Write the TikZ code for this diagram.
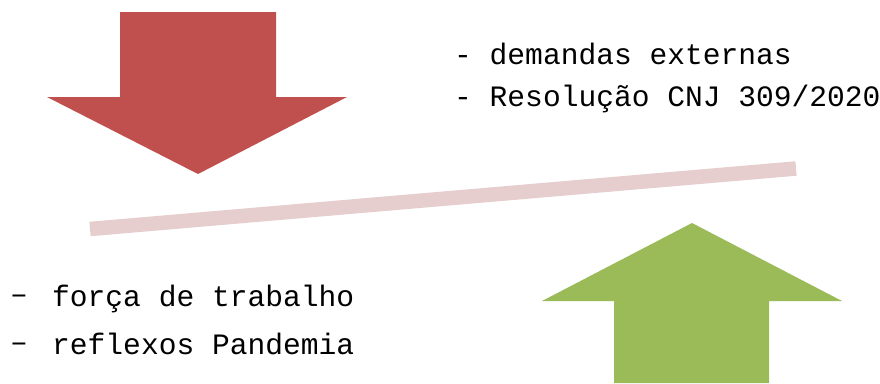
\documentclass[tikz,border=0pt]{standalone}
\usepackage{fontspec}
\setmonofont{Liberation Mono}
\definecolor{redarrow}{HTML}{C0504D}
\definecolor{greenarrow}{HTML}{9BBB59}
\definecolor{barpink}{HTML}{E6CDCE}
\begin{document}
\begin{tikzpicture}[x=1pt,y=-1pt,
  lbl/.style={anchor=base west, inner sep=0pt, font=\fontsize{29.6}{34}\selectfont\ttfamily},
  barline/.style={barpink, line width=14.5pt}]
\useasboundingbox (0,0) rectangle (880,383);
\fill[redarrow] (120,12) -- (276,12) -- (276,97) -- (347,97) -- (198,174) -- (47,97) -- (120,97) -- cycle;
\fill[greenarrow] (614,383) -- (769,383) -- (769,301) -- (842,301) -- (692,223) -- (542,301) -- (614,301) -- cycle;
\coordinate (barL) at (90,229);
\coordinate (barR) at (796,168.5);
\draw[barline] (barL) -- (barR);
\node[lbl] (t1) at (454,64) {- demandas externas};
\node[lbl] (t2) at (454,106) {- Resolução CNJ 309/2020};
\node[lbl] (t3) at (10,306) {\makebox[42pt][l]{\raisebox{3pt}{–}}força de trabalho};
\node[lbl] (t4) at (10,354) {\makebox[42pt][l]{\raisebox{3pt}{–}}reflexos Pandemia};
\end{tikzpicture}
\end{document}
